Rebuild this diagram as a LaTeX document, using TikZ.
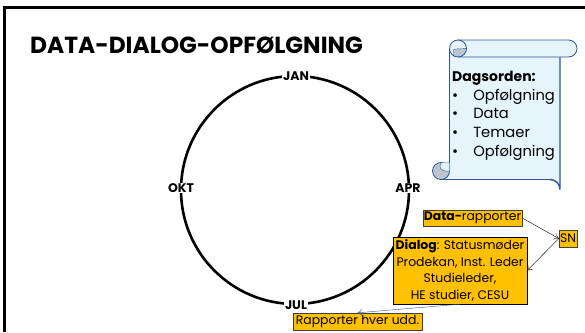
\documentclass[tikz,border=0pt]{standalone}
\usepackage{fontspec}
\usetikzlibrary{arrows.meta}
\setmainfont{Poppins}
\definecolor{boxorange}{HTML}{FFC000}
\definecolor{scrollblue}{HTML}{E6F4FC}
\definecolor{scrollline}{HTML}{2F5597}
\definecolor{curlgray}{HTML}{BCC6CE}
\begin{document}
\begin{tikzpicture}[x=1pt, y=-1pt]
    \tikzstyle{month}=[fill=white, inner sep=1pt, font=\fontsize{12.5}{14}\selectfont\bfseries]
    \tikzstyle{orange box}=[draw=black!75, fill=boxorange, inner sep=0pt, text=black, font=\fontsize{12.4}{16.7}\selectfont]
    \tikzstyle{link}=[draw=black, thin, -{To[length=4.5pt,width=7pt]}]
    \tikzstyle{scroll}=[draw=scrollline, fill=scrollblue, thick]
    \useasboundingbox (0,0) rectangle (585,332);

    % Frame
    \draw[line width=3pt] (4.5,332) -- (4.5,7.5) -- (585,7.5);

    % Title
    \node[font=\fontsize{23.3}{26}\selectfont\bfseries, anchor=west, inner sep=0pt] (title) at (30,45) {DATA-DIALOG-OPFØLGNING};

    % Year wheel
    \coordinate (C) at (295,190);
    \draw[line width=2.6pt] (C) circle (114);
    \node[month] (jan) at (296,76) {JAN};
    \node[month] (apr) at (408,188) {APR};
    \node[month] (jul) at (296,305) {JUL};
    \node[month] (okt) at (181,188) {OKT};

    % Scroll body
    \fill[scrollblue] (449,49) -- (449,171) -- (441,179.5) -- (550,179.5) arc (-90:0:10) -- (560,57) -- cycle;
    \draw[scrollline, thick] (449,49) -- (449,171);
    \draw[scrollline, thick] (441,179.5) -- (550,179.5);
    \draw[scrollline, line width=1.4pt] (550,179.5) arc (-90:0:10) -- (560,57);

    % Top roll
    \draw[scroll] (458,40) -- (568.5,40) arc (-90:90:8.5) -- (458,57);
    \fill[scrollblue] (458,48.5) circle (8.5);
    \begin{scope}
        \clip (458,48.5) circle (8.5);
        \draw[scrollline, fill=curlgray] (453,59) -- (453,52) .. controls (453,50) and (454,49) .. (456,49) -- (468,48.5) -- (468,59) -- cycle;
    \end{scope}
    \draw[scrollline, thick] (458,48.5) circle (8.5);

    % Bottom roll
    \draw[scrollline, thick, fill=curlgray] (441,171) circle (8.5);
    \draw[scrollline, fill=scrollblue] (441.5,162.5) .. controls (438,167) and (440,172) .. (449.5,171) -- (449.5,162.5) -- cycle;

    % Agenda
    \node[anchor=north west, align=left, inner sep=0pt, font=\fontsize{14.7}{18.7}\selectfont] (agenda) at (452,71) {{\fontsize{14}{18.7}\selectfont\textbf{Dagsorden:}}\\
    •\hspace{15pt}Opfølgning\\
    •\hspace{15pt}Data\\
    •\hspace{15pt}Temaer\\
    •\hspace{15pt}Opfølgning};

    % Boxes
    \node[orange box, minimum width=99pt, minimum height=16pt] (D) at (472.5,218) {\textbf{Data-}rapporter};
    \node[orange box, draw=black, align=center, minimum width=134pt, minimum height=67pt] (M) at (460,270.5) {\textbf{Dialog}: Statusmøder\\Prodekan, Inst. Leder\\Studieleder,\\HE studier, CESU};
    \node[orange box, minimum width=18pt, minimum height=17pt] (S) at (568,238.5) {SN};
    \node[orange box, minimum width=129pt, minimum height=17pt] (R) at (357.5,321.5) {Rapporter hver udd.};

    % Connect boxes
    \draw[link] (D.east) -- (S.west);
    \draw[link] (S.west) -- (M.east);
    \draw[link, draw=scrollline] (M.south) -- (R.north);
\end{tikzpicture}
\end{document}
